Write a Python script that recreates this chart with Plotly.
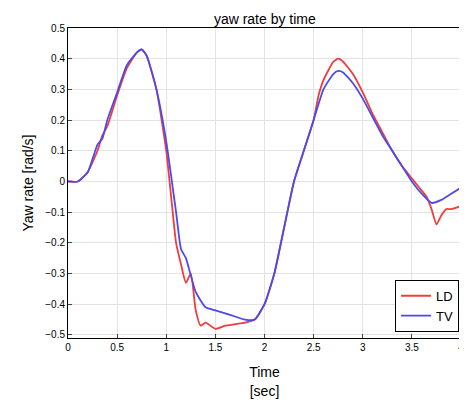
import plotly.graph_objects as go

t_ld = [0, 0.1, 0.2, 0.3, 0.35, 0.4, 0.5, 0.6, 0.7, 0.75, 0.8, 0.9, 1.0, 1.05, 1.1, 1.15, 1.2, 1.25, 1.3, 1.35, 1.4, 1.5, 1.6, 1.7, 1.8, 1.9, 2.0, 2.1, 2.2, 2.3, 2.4, 2.5, 2.55, 2.6, 2.7, 2.75, 2.8, 2.9, 3.0, 3.1, 3.2, 3.3, 3.4, 3.5, 3.6, 3.65, 3.7, 3.75, 3.8, 3.85, 3.9, 4.0]
yaw_ld = [0, 0.0, 0.03, 0.1, 0.15, 0.18, 0.28, 0.37, 0.42, 0.43, 0.41, 0.3, 0.1, -0.05, -0.2, -0.27, -0.33, -0.3, -0.42, -0.47, -0.46, -0.48, -0.47, -0.465, -0.46, -0.45, -0.4, -0.3, -0.15, 0.0, 0.1, 0.2, 0.28, 0.33, 0.39, 0.4, 0.39, 0.35, 0.29, 0.22, 0.16, 0.1, 0.05, 0.01, -0.03, -0.05, -0.09, -0.14, -0.11, -0.09, -0.09, -0.08]

t_tv = [0, 0.1, 0.2, 0.3, 0.35, 0.4, 0.5, 0.6, 0.7, 0.75, 0.8, 0.9, 1.0, 1.1, 1.15, 1.2, 1.3, 1.4, 1.5, 1.6, 1.7, 1.8, 1.9, 2.0, 2.1, 2.2, 2.3, 2.4, 2.5, 2.6, 2.7, 2.75, 2.8, 2.9, 3.0, 3.1, 3.2, 3.3, 3.4, 3.5, 3.6, 3.7, 3.8, 3.9, 4.0]
yaw_tv = [0, 0.0, 0.03, 0.12, 0.14, 0.2, 0.29, 0.38, 0.42, 0.43, 0.41, 0.3, 0.13, -0.1, -0.22, -0.25, -0.36, -0.41, -0.42, -0.43, -0.44, -0.45, -0.45, -0.4, -0.3, -0.15, 0.0, 0.1, 0.2, 0.3, 0.35, 0.36, 0.355, 0.32, 0.27, 0.21, 0.15, 0.1, 0.05, 0.0, -0.04, -0.07, -0.06, -0.04, -0.02]

fig = go.Figure()
fig.add_trace(go.Scatter(x=t_ld, y=yaw_ld, mode="lines", name="LD",
                         line=dict(color="#f03c3c", width=1.8, shape="spline", smoothing=0.5)))
fig.add_trace(go.Scatter(x=t_tv, y=yaw_tv, mode="lines", name="TV",
                         line=dict(color="#4a4af0", width=1.8, shape="spline", smoothing=0.5)))

ax = dict(showline=True, linecolor="black", mirror=True, gridcolor="#e3e3e3",
          ticks="inside", ticklen=4, zeroline=False, tickfont=dict(size=10, color="black"))
fig.update_layout(
    width=467, height=400, plot_bgcolor="white", paper_bgcolor="white",
    font=dict(family="Liberation Sans", color="black"),
    margin=dict(l=60, r=14, t=20, b=70, autoexpand=False),
    title=dict(text="yaw rate by time", x=0.55, y=0.985, xanchor="center", font=dict(size=14)),
    xaxis=dict(ax, range=[0, 4], dtick=0.5, title=dict(text="Time<br>[sec]", font=dict(size=14))),
    yaxis=dict(ax, range=[-0.51, 0.5], dtick=0.1, title=dict(text="Yaw rate [rad/s]", font=dict(size=14), standoff=8)),
    legend=dict(x=0.995, y=0.02, xanchor="right", yanchor="bottom", bordercolor="black",
                borderwidth=1, bgcolor="white", font=dict(size=13)),
)
fig.write_html("out.html")
